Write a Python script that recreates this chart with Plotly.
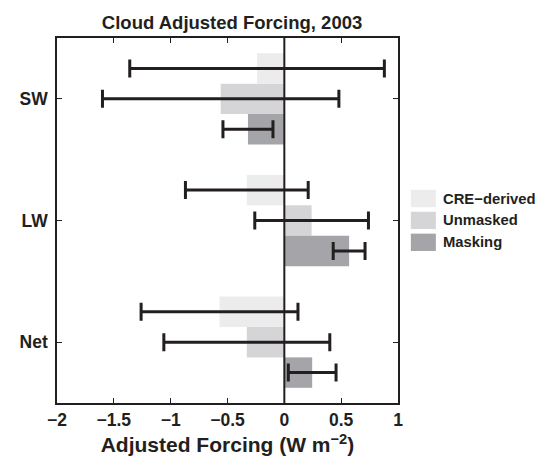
import plotly.graph_objects as go

categories = ["SW", "LW", "Net"]
series_names = ["CRE\u2212derived", "Unmasked", "Masking"]
cre_values = [-0.24, -0.33, -0.57]
cre_errors = [1.12, 0.54, 0.69]
unmasked_values = [-0.56, 0.24, -0.33]
unmasked_errors = [1.04, 0.50, 0.73]
masking_values = [-0.32, 0.57, 0.245]
masking_errors = [0.22, 0.14, 0.21]
x_ticks = [-2, -1.5, -1, -0.5, 0, 0.5, 1]
x_ticktext = ["\u22122", "\u22121.5", "\u22121", "\u22120.5", "0", "0.5", "1"]

colors = ["#ececec", "#d5d5d7", "#a4a4a9"]
ink = "#231f20"
font_family = "Liberation Sans, Arial, sans-serif"

ypos = list(range(1, len(categories) + 1))
series = [(cre_values, cre_errors), (unmasked_values, unmasked_errors), (masking_values, masking_errors)]

fig = go.Figure()
for name, (vals, errs), col in zip(series_names, series, colors):
    fig.add_trace(go.Bar(
        x=vals, y=ypos, orientation="h", name=name,
        marker=dict(color=col, line=dict(width=0)),
        error_x=dict(type="data", array=errs, visible=True, color=ink, thickness=3, width=9),
        showlegend=False,
    ))

fig.add_shape(type="line", xref="x", yref="paper", x0=0, x1=0, y0=0, y1=1,
              line=dict(color=ink, width=2), layer="above")

# custom legend with large swatches
leg_top = 0.584
step = 0.06
sw_h = 0.0475
for i, (name, col) in enumerate(zip(series_names, colors)):
    y1 = leg_top - i * step
    fig.add_shape(type="rect", xref="paper", yref="paper",
                  x0=1.0377, x1=1.111, y0=y1 - sw_h, y1=y1,
                  fillcolor=col, line=dict(width=0))
    fig.add_annotation(xref="paper", yref="paper", x=1.125, y=y1 - sw_h / 2,
                       text="<b>%s</b>" % name, showarrow=False, xanchor="left",
                       yanchor="middle", font=dict(size=14.8, color=ink, family=font_family))

fig.update_layout(
    width=538, height=457,
    margin=dict(l=45, r=148, t=30, b=57),
    paper_bgcolor="white", plot_bgcolor="white",
    barmode="group", bargap=0.25, bargroupgap=0,
    title=dict(text="<b>Cloud Adjusted Forcing, 2003</b>", x=0.4165, xanchor="center",
               y=0.968, yanchor="middle", font=dict(size=18.5, color=ink, family=font_family)),
    font=dict(family=font_family, color=ink),
    xaxis=dict(range=[-2, 1], tickvals=x_ticks, ticktext=["<b>%s</b>" % t for t in x_ticktext],
               ticks="inside", ticklen=5, tickcolor=ink, tickwidth=1,
               showline=True, linecolor=ink, linewidth=1.5, mirror="ticks",
               showgrid=False, zeroline=False,
               tickfont=dict(size=17.5, color=ink, family=font_family),
               title=dict(text="<b>Adjusted Forcing (W m<sup>\u22122</sup>)</b>", standoff=9,
                          font=dict(size=21, color=ink, family=font_family))),
    yaxis=dict(range=[3.5, 0.5], tickvals=ypos, ticktext=["<b>%s</b>" % c for c in categories],
               ticks="inside", ticklen=5, tickcolor=ink, tickwidth=1,
               showline=True, linecolor=ink, linewidth=1.5, mirror="ticks",
               showgrid=False, zeroline=False, ticklabelstandoff=4,
               tickfont=dict(size=17.5, color=ink, family=font_family)),
)

fig.write_html("out.html")
